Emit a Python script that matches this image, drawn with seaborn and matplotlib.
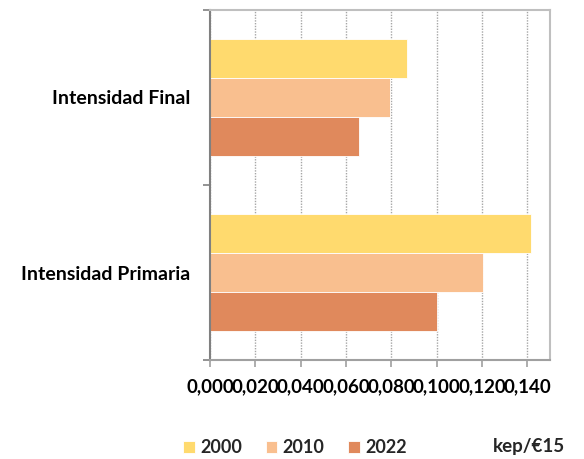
import numpy as np
import pandas as pd
import matplotlib
matplotlib.use("Agg")
import matplotlib.pyplot as plt
import seaborn as sns
from matplotlib.ticker import FuncFormatter

categories = ["Intensidad Final", "Intensidad Primaria"]
years = ["2000", "2010", "2022"]
values_2000 = [0.0871, 0.1417]
values_2010 = [0.0793, 0.1206]
values_2022 = [0.0658, 0.1000]
x_ticks = [0.000, 0.020, 0.040, 0.060, 0.080, 0.100, 0.120, 0.140]
colors = ["#FFDA6E", "#F9BF8F", "#E0895C"]
unit_label = "kep/€15"

df = pd.DataFrame({
    "cat": categories * 3,
    "year": [years[0]] * 2 + [years[1]] * 2 + [years[2]] * 2,
    "value": values_2000 + values_2010 + values_2022,
})

sns.set_style("white")
plt.rcParams["font.family"] = ["Lato", "DejaVu Sans"]

fig = plt.figure(figsize=(5.84, 4.59), dpi=100)
ax = fig.add_axes([210 / 584, 99 / 459, 340 / 584, 350 / 459])

sns.barplot(
    data=df,
    y="cat",
    x="value",
    hue="year",
    palette=colors,
    orient="h",
    width=0.67,
    saturation=1,
    edgecolor="white",
    linewidth=0.6,
    ax=ax,
)

ax.set_xlim(0, 0.15)
ax.set_xticks(x_ticks)
ax.xaxis.set_major_formatter(FuncFormatter(lambda v, p: f"{v:.3f}".replace(".", ",")))
ax.grid(axis="x", color="#A6A6A6", linestyle=(0, (1, 1)), linewidth=1)
ax.set_axisbelow(True)

ax.set_yticks([-0.5, 0.5, 1.5])
ax.set_yticklabels(["", "", ""])
ax.set_yticks([0, 1], minor=True)
ax.set_yticklabels(categories, minor=True)
ax.set_ylim(1.5, -0.5)
ax.tick_params(axis="y", which="major", length=5, width=1.2, color="#808080", left=True)
ax.tick_params(axis="y", which="minor", length=0, pad=14)
ax.tick_params(axis="x", length=5, width=1.2, color="#A0A0A0", bottom=True, pad=8)

for lab in ax.get_xticklabels():
    lab.set_fontweight("bold")
    lab.set_fontsize(13.5)
    lab.set_color("black")
for lab in ax.get_yticklabels(minor=True):
    lab.set_fontweight("bold")
    lab.set_fontsize(14)
    lab.set_color("black")

ax.spines["left"].set_color("#808080")
ax.spines["bottom"].set_color("#A0A0A0")
ax.spines["top"].set_color("#BFBFBF")
ax.spines["right"].set_color("#BFBFBF")
for s in ax.spines.values():
    s.set_linewidth(1.5)
    s.set_visible(True)

ax.set_xlabel("")
ax.set_ylabel("")

handles, labels = ax.get_legend_handles_labels()
ax.get_legend().remove()
fig.legend(
    handles,
    labels,
    loc="center",
    bbox_to_anchor=(0.505, 0.024),
    ncol=3,
    frameon=False,
    handlelength=0.65,
    handleheight=0.65,
    handletextpad=0.3,
    columnspacing=1.3,
    prop={"weight": "bold", "size": 13},
)
fig.text(493 / 584, 0.027, unit_label, ha="left", va="center",
         fontsize=13.5, fontweight="bold")

plt.savefig("out.png", dpi=100)
plt.close()
